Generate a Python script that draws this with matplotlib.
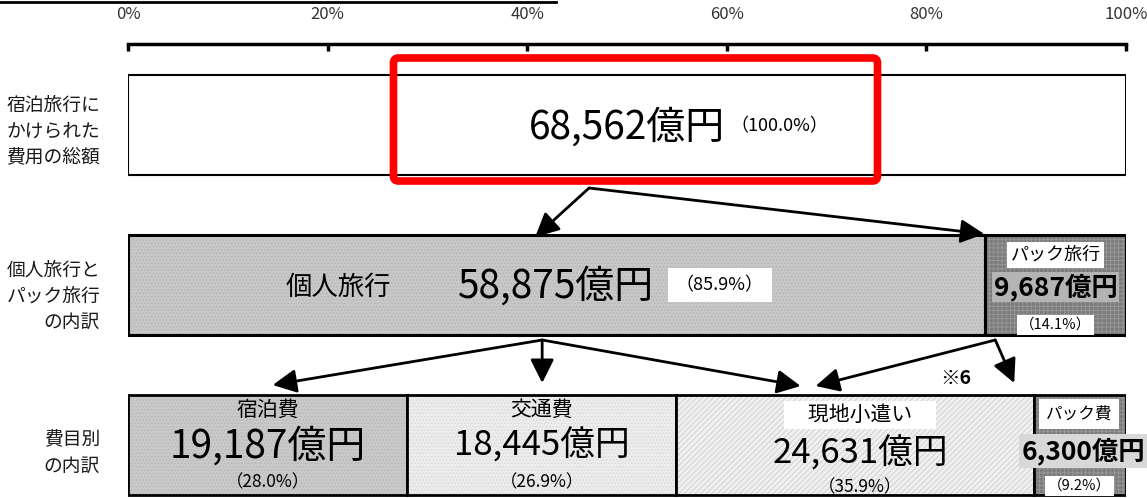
import matplotlib
matplotlib.use("Agg")
import matplotlib.pyplot as plt
from matplotlib.patches import FancyBboxPatch
from matplotlib.lines import Line2D

plt.rcParams['font.family'] = ['Noto Sans CJK JP', 'DejaVu Sans']
plt.rcParams['hatch.linewidth'] = 0.6

# ---------------- data ----------------
level_labels = ['宿泊旅行に\nかけられた\n費用の総額', '個人旅行と\nパック旅行\nの内訳', '費目別\nの内訳']
total_value = 68562
total_pct = 100.0
travel_types = ['個人旅行', 'パック旅行']
travel_values = [58875, 9687]
travel_pct = [85.9, 14.1]
cost_items = ['宿泊費', '交通費', '現地小遣い', 'パック費']
cost_values = [19187, 18445, 24631, 6300]
cost_pct = [28.0, 26.9, 35.9, 9.2]
tick_values = [0, 20, 40, 60, 80, 100]
tick_labels = ['0%', '20%', '40%', '60%', '80%', '100%']

# ---------------- layout ----------------
W, H = 1147, 498
fig = plt.figure(figsize=(W / 100, H / 100), dpi=100)
ax = fig.add_axes([128 / W, 0, 998 / W, (H - 44) / H])
ax.set_xlim(0, 100)
ax.set_ylim(H, 44)          # y measured downward
row_y = [125, 285, 445]
row_h = 100

for s in ['left', 'right', 'bottom']:
    ax.spines[s].set_visible(False)
ax.spines['top'].set_linewidth(2.5)
ax.xaxis.set_ticks_position('top')
ax.xaxis.set_label_position('top')
ax.set_xticks(tick_values)
ax.set_xticklabels(tick_labels, fontsize=12, color='#333333')
ax.tick_params(axis='x', direction='in', length=5, width=2.5, pad=15)
ax.set_yticks([])

def fmt(v):
    return f'{v:,}億円'

def pct(p):
    return f'（{p:.1f}%）'

# ---------- row 1: total ----------
ax.barh(row_y[0], total_pct, height=row_h, left=0, color='white',
        edgecolor='black', linewidth=1.5)
ax.text(50, row_y[0] + 3, fmt(total_value), ha='center', va='center', fontsize=28)
ax.text(65.3, row_y[0] + 1, pct(total_pct), ha='center', va='center', fontsize=13)
hl = FancyBboxPatch((26.6, 58), 48.5, 123, boxstyle='round,pad=0,rounding_size=0.5',
                    fill=False, edgecolor='#ff0000', linewidth=5.5, mutation_aspect=10)
ax.add_patch(hl)

# ---------- row 2: travel types ----------
fills2 = [dict(color='#c8c8c8', hatch='.....', edgecolor='#b2b2b2'),
          dict(color='#7c7c7c', hatch='++++', edgecolor='#999999')]
left = 0
for i, (p, st) in enumerate(zip(travel_pct, fills2)):
    ax.barh(row_y[1], p, height=row_h, left=left, color=st['color'],
            hatch=st['hatch'], edgecolor=st['edgecolor'], linewidth=0)
    ax.barh(row_y[1], p, height=row_h, left=left, fill=False,
            edgecolor='black', linewidth=2.2)
    left += p

ax.text(21.1, row_y[1] + 2, travel_types[0], ha='center', va='center', fontsize=19)
ax.text(42.8, row_y[1] + 2, fmt(travel_values[0]), ha='center', va='center', fontsize=28)
ax.text(59.3, row_y[1], pct(travel_pct[0]), ha='center', va='center', fontsize=13,
        bbox=dict(boxstyle='square,pad=0.45', fc='white', ec='none'))
pc = travel_pct[0] + travel_pct[1] / 2
ax.text(pc, 255, travel_types[1], ha='center', va='center', fontsize=13,
        bbox=dict(boxstyle='square,pad=0.2', fc='white', ec='none'))
ax.text(pc, 287, fmt(travel_values[1]), ha='center', va='center', fontsize=19,
        fontweight='bold', bbox=dict(boxstyle='square,pad=0.05', fc='#b4b4b4', ec='none'))
ax.text(pc, 325, pct(travel_pct[1]), ha='center', va='center', fontsize=10.5,
        bbox=dict(boxstyle='square,pad=0.2', fc='white', ec='none'))

# ---------- row 3: cost items ----------
fills3 = [dict(color='#c9c9c9', hatch='.....', edgecolor='#b6b6b6'),
          dict(color='#ececec', hatch='.....', edgecolor='#d8d8d8'),
          dict(color='#f0f0f0', hatch='//////', edgecolor='#cdcdcd'),
          dict(color='#7c7c7c', hatch='++++', edgecolor='#999999')]
left = 0
centers = []
for p, st in zip(cost_pct, fills3):
    ax.barh(row_y[2], p, height=row_h, left=left, color=st['color'],
            hatch=st['hatch'], edgecolor=st['edgecolor'], linewidth=0)
    ax.barh(row_y[2], p, height=row_h, left=left, fill=False,
            edgecolor='black', linewidth=2.0)
    centers.append(left + p / 2)
    left += p

# 宿泊費
ax.text(centers[0], 410, cost_items[0], ha='center', va='center', fontsize=15)
ax.text(centers[0], 447, fmt(cost_values[0]), ha='center', va='center', fontsize=28)
ax.text(centers[0], 482, pct(cost_pct[0]), ha='center', va='center', fontsize=12.5)
# 交通費
ax.text(centers[1], 410, cost_items[1], ha='center', va='center', fontsize=15)
ax.text(centers[1], 446, fmt(cost_values[1]), ha='center', va='center', fontsize=25)
ax.text(centers[1], 482, pct(cost_pct[1]), ha='center', va='center', fontsize=12.5)
# 現地小遣い
cx = centers[2] + 0.5
ax.text(cx, 415, '　' + cost_items[2] + '　', ha='center', va='center', fontsize=15,
        bbox=dict(boxstyle='square,pad=0.15', fc='white', ec='none'))
ax.text(cx, 454, fmt(cost_values[2]), ha='center', va='center', fontsize=25)
ax.text(cx, 487, pct(cost_pct[2]), ha='center', va='center', fontsize=12.5)
# パック費
ax.text(centers[3] - 0.1, 414, cost_items[3], ha='center', va='center', fontsize=12,
        bbox=dict(boxstyle='square,pad=0.4', fc='white', ec='none'))
ax.text(centers[3] + 0.3, 451, fmt(cost_values[3]), ha='center', va='center', fontsize=19,
        fontweight='bold', bbox=dict(boxstyle='square,pad=0.1', fc='#d8d8d8', ec='none'))
ax.text(centers[3] - 0.1, 486, pct(cost_pct[3]), ha='center', va='center', fontsize=10.5,
        bbox=dict(boxstyle='square,pad=0.2', fc='white', ec='none'))

# ---------- row labels ----------
label_y = [131, 296, 453]
for lab, y in zip(level_labels, label_y):
    ax.text(-2.8, y, lab, ha='right', va='center', fontsize=13.5, linespacing=1.3,
            color='#1a1a1a')

# ---------- arrows ----------
arrow_kw = dict(arrowstyle='-|>,head_length=0.8,head_width=0.4', color='black',
                lw=2, mutation_scale=18, shrinkA=0, shrinkB=0)
def arrow(x0, y0, x1, y1):
    ax.annotate('', xy=(x1, y1), xytext=(x0, y0), arrowprops=arrow_kw)

arrow(46.2, 188, 40.8, 237)
arrow(46.2, 188, travel_pct[0] - 0.1, 234)
arrow(41.5, 340, 14.5, 385)
arrow(41.5, 340, 41.5, 383)
arrow(41.5, 340, 67.4, 386)
arrow(86.9, 340, 68.9, 386)
arrow(86.9, 340, 88.8, 383)
ax.text(82.9, 378, '※6', ha='center', va='center', fontsize=14, fontweight='bold')

# cropped title underline at top edge
fig.add_artist(Line2D([0, 556 / W], [1 - 2 / H, 1 - 2 / H], transform=fig.transFigure,
                      color='black', lw=2))

fig.savefig('out.png', dpi=100)
